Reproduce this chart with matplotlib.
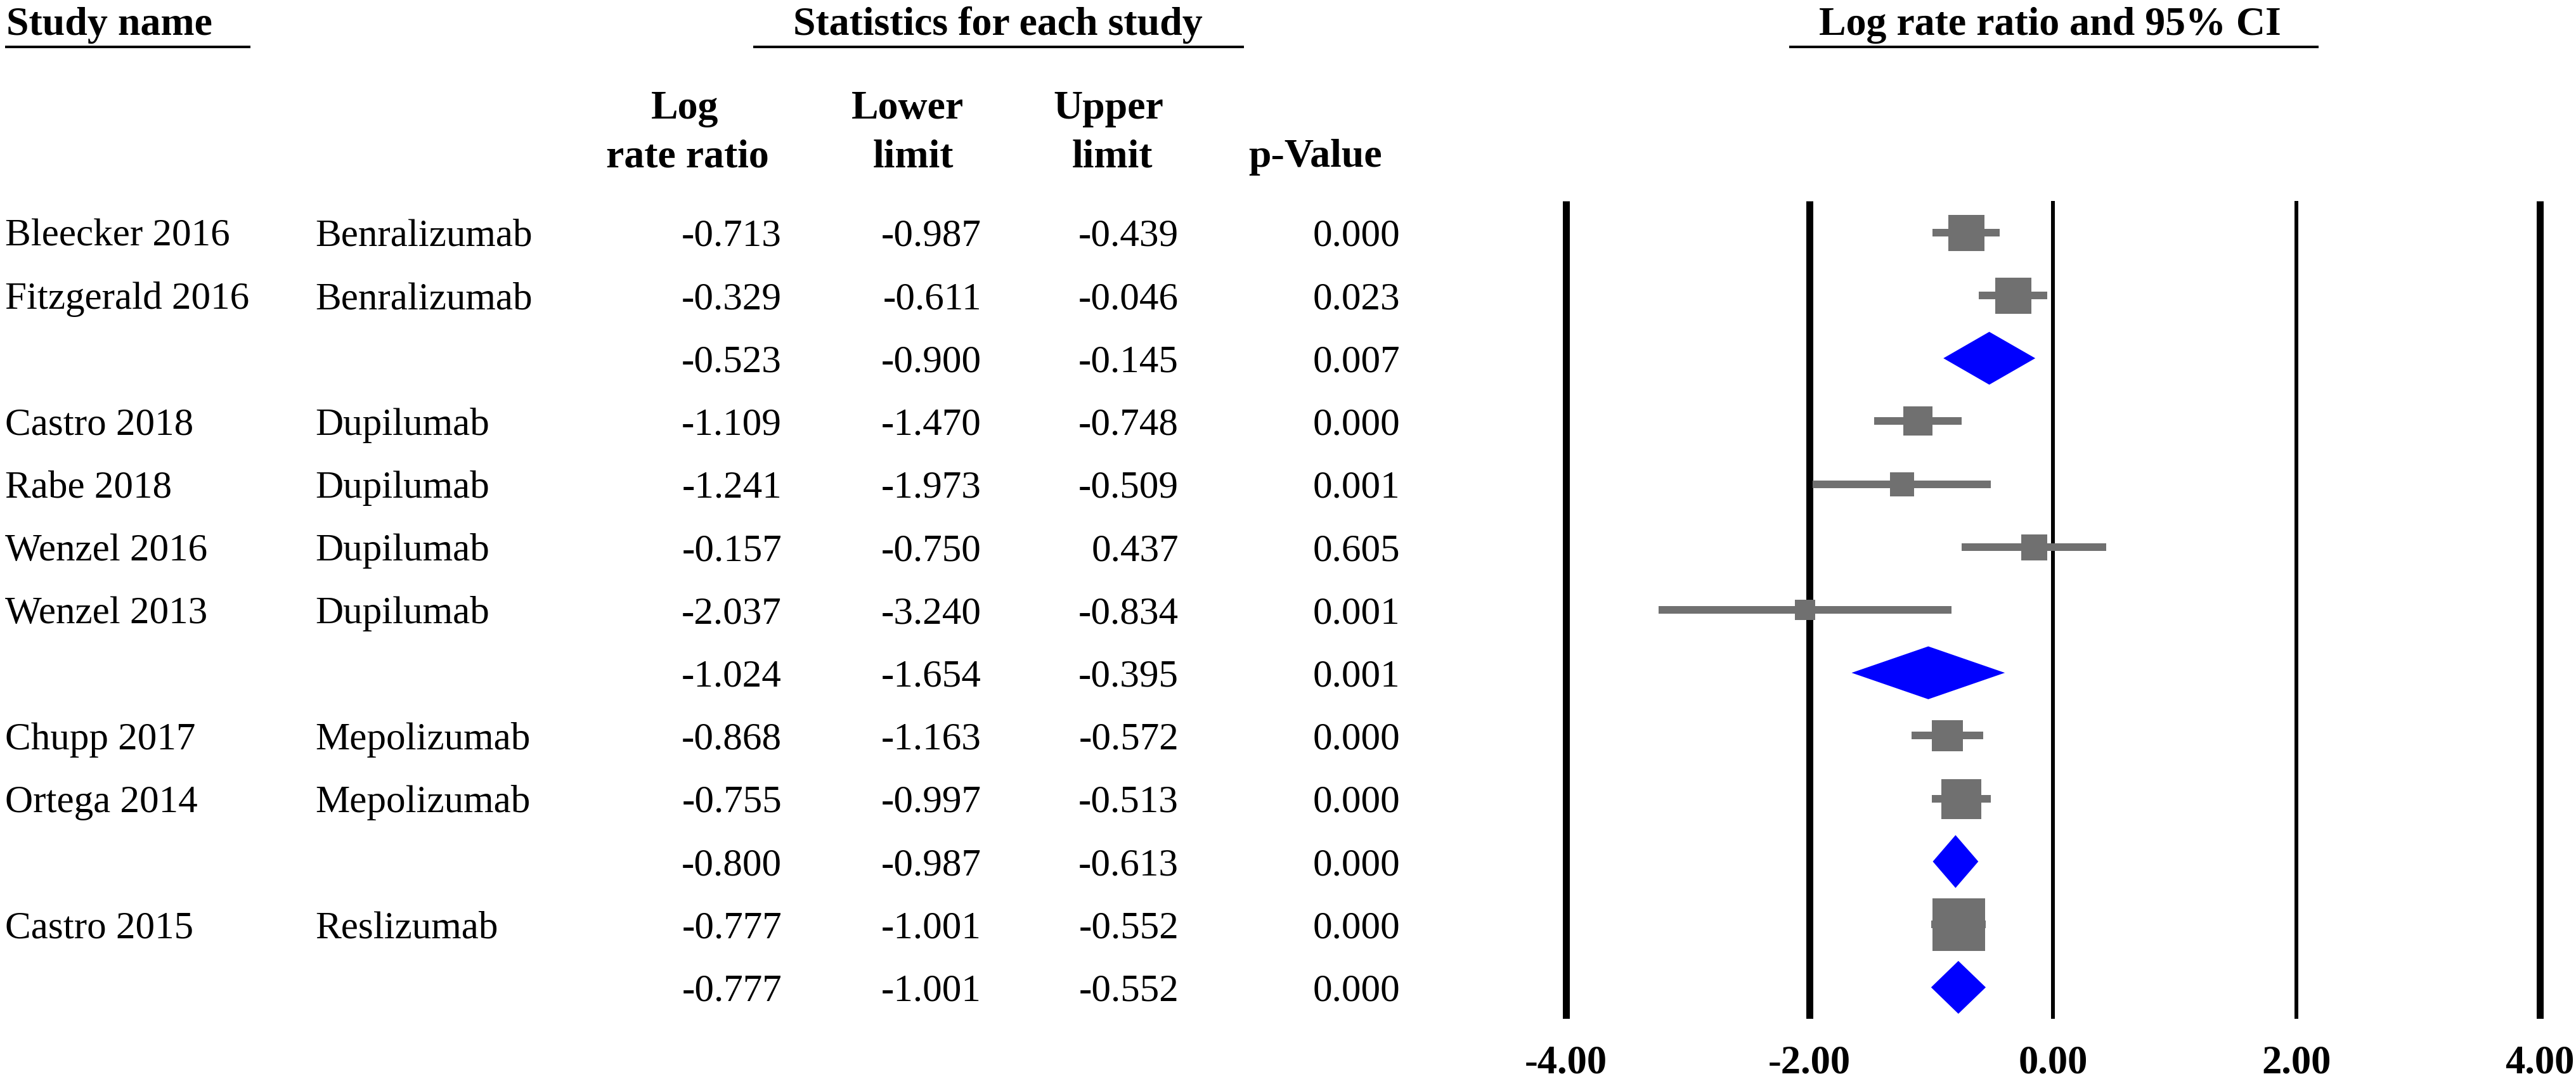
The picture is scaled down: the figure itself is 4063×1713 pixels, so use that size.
import matplotlib
matplotlib.use("Agg")
import matplotlib.pyplot as plt
import matplotlib.transforms as mtransforms

# rows of the forest plot, top to bottom ("" = subgroup summary row)
study_names = ["Bleecker 2016", "Fitzgerald 2016", "", "Castro 2018", "Rabe 2018",
               "Wenzel 2016", "Wenzel 2013", "", "Chupp 2017", "Ortega 2014", "",
               "Castro 2015", ""]
drugs = ["Benralizumab", "Benralizumab", "", "Dupilumab", "Dupilumab", "Dupilumab",
         "Dupilumab", "", "Mepolizumab", "Mepolizumab", "", "Reslizumab", ""]
log_rr = [-0.713, -0.329, -0.523, -1.109, -1.241, -0.157, -2.037, -1.024,
          -0.868, -0.755, -0.800, -0.777, -0.777]
lower = [-0.987, -0.611, -0.900, -1.470, -1.973, -0.750, -3.240, -1.654,
         -1.163, -0.997, -0.987, -1.001, -1.001]
upper = [-0.439, -0.046, -0.145, -0.748, -0.509, 0.437, -0.834, -0.395,
         -0.572, -0.513, -0.613, -0.552, -0.552]
p_values = [0.000, 0.023, 0.007, 0.000, 0.001, 0.605, 0.001, 0.001,
            0.000, 0.000, 0.000, 0.000, 0.000]
is_summary = [False, False, True, False, False, False, False, True,
              False, False, True, False, True]
# relative study weight shown as box side (pixels)
box_px = [57, 57, 0, 46, 38, 41, 32, 0, 49, 63, 0, 83, 0]
axis_ticks = [-4, -2, 0, 2, 4]

W, H = 4063, 1713
DPI = 100
PX = 72.0 / DPI  # points per pixel
GRAY = "#707070"
BLUE = "#0000ff"

plt.rcParams['font.family'] = ['Liberation Serif', 'DejaVu Serif']

fig = plt.figure(figsize=(W / DPI, H / DPI), dpi=DPI)
fig.patch.set_facecolor("white")

# table layer in pixel coords
tab = fig.add_axes([0, 0, 1, 1])
tab.set_xlim(0, W)
tab.set_ylim(H, 0)
tab.axis('off')

# forest plot
ax = fig.add_axes([2422 / W, 1 - 1607 / H, 1632 / W, 1290 / H])
n = len(log_rr)
ax.set_xlim(-4.25, 4.25)
ax.set_ylim(n - 0.5, -0.5)
ax.patch.set_visible(False)
for s in ax.spines.values():
    s.set_visible(False)
ax.set_yticks([])
ax.set_xticks(axis_ticks, labels=["{:.2f}".format(t) for t in axis_ticks])
ax.tick_params(axis='x', length=0, pad=30, labelsize=45)
for lab in ax.get_xticklabels():
    lab.set_fontweight('bold')

line_px = {-4: 11, -2: 11, 0: 6, 2: 6, 4: 11}
for t in axis_ticks:
    ax.axvline(t, color='black', lw=line_px[t] * PX, solid_capstyle='butt', zorder=1)

dh = 0.42
for i in range(n):
    if is_summary[i]:
        ax.fill([lower[i], log_rr[i], upper[i], log_rr[i]],
                [i, i - dh, i, i + dh], color=BLUE, lw=0, zorder=3)
    else:
        ax.hlines(i, lower[i], upper[i], color=GRAY, lw=12 * PX,
                  capstyle='butt', zorder=2)
        ax.plot(log_rr[i], i, marker='s', ms=box_px[i] * PX, color=GRAY,
                mew=0, zorder=3)

# table text: x in pixels, y in forest rows
trans = mtransforms.blended_transform_factory(tab.transData, ax.transData)
fs = 44
for i in range(n):
    kw = dict(transform=trans, va='center_baseline', fontsize=fs)
    tab.text(8, i, study_names[i], ha='left', **kw)
    tab.text(497, i, drugs[i], ha='left', **kw)
    tab.text(1233, i, "{:.3f}".format(log_rr[i]), ha='right', **kw)
    tab.text(1548, i, "{:.3f}".format(lower[i]), ha='right', **kw)
    tab.text(1859, i, "{:.3f}".format(upper[i]), ha='right', **kw)
    tab.text(2208, i, "{:.3f}".format(p_values[i]), ha='right', **kw)

# headers
hk = dict(fontsize=46, fontweight='bold', va='baseline')
tab.text(10, 55, "Study name", ha='left', **hk)
tab.text(1574, 55, "Statistics for each study", ha='center', **hk)
tab.text(3233, 55, "Log rate ratio and 95% CI", ha='center', **hk)
for x0, x1 in [(8, 395), (1188, 1962), (2822, 3657)]:
    tab.plot([x0, x1], [74, 74], color='black', lw=4 * PX, solid_capstyle='butt')

tab.text(1080, 187, "Log", ha='center', **hk)
tab.text(1084, 263, "rate ratio", ha='center', **hk)
tab.text(1432, 187, "Lower", ha='center', **hk)
tab.text(1440, 263, "limit", ha='center', **hk)
tab.text(1748, 187, "Upper", ha='center', **hk)
tab.text(1754, 263, "limit", ha='center', **hk)
tab.text(2075, 263, "p-Value", ha='center', **hk)

plt.savefig("out.png", dpi=DPI, facecolor="white")
